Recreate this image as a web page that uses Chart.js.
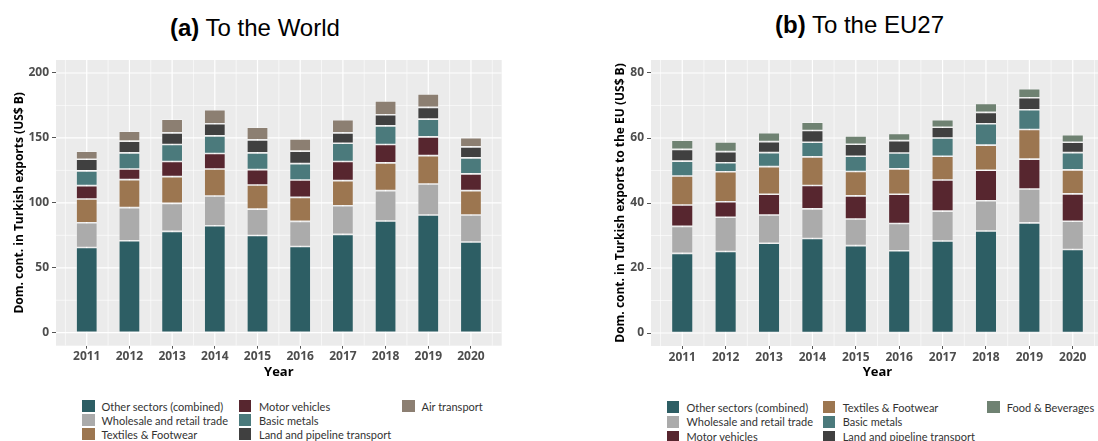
<!DOCTYPE html>
<html>
<head>
<meta charset="utf-8">
<script src="https://cdn.jsdelivr.net/npm/chart.js@4"></script>
<style>
  html, body { margin: 0; padding: 0; background: #fff; overflow: hidden; width: 1098px; height: 441px; }
  .wrap { position: absolute; }
  .title { position: absolute; font-family: "Liberation Sans", Arial, sans-serif; font-size: 24px; line-height: 24px; color: #000; white-space: nowrap; }
  .title b { font-weight: bold; }
  .legend { position: absolute; font-family: Lato, "Open Sans", sans-serif; font-size: 11px; color: #333; }
  .item { position: absolute; white-space: nowrap; height: 14px; line-height: 13px; }
  .sw { position: absolute; left: 0; top: 0; width: 12.5px; height: 12px; }
  .lbl { position: absolute; top: -0.5px; }
</style>
</head>
<body>
<div class="title" style="left:170px; top:16px;"><b>(a)</b> To the World</div>
<div class="title" style="left:775px; top:13px;"><b>(b)</b> To the EU27</div>

<canvas id="world" class="wrap" width="549" height="390" style="left:0; top:0;"></canvas>
<canvas id="eu" class="wrap" width="510" height="390" style="left:600px; top:0;"></canvas>

<div id="legendWorld" class="legend" style="left:0; top:0;"></div>
<div id="legendEu" class="legend" style="left:0; top:0;"></div>

<script>
// years on the x axis
const years = [2011, 2012, 2013, 2014, 2015, 2016, 2017, 2018, 2019, 2020];

// (a) To the World, US$ B
const worldOther     = [65.6, 70.8, 78.0, 82.4, 74.9, 66.4, 75.7, 86.0, 90.6, 69.8];
const worldWholesale = [19.1, 25.5, 21.6, 22.9, 20.3, 19.3, 22.1, 23.4, 23.9, 20.8];
const worldTextiles  = [18.3, 21.6, 20.6, 20.8, 18.6, 18.5, 19.3, 21.4, 21.9, 18.8];
const worldMotor     = [10.3, 8.2, 11.6, 11.9, 11.8, 13.4, 14.7, 14.1, 14.4, 12.9];
const worldMetals    = [11.3, 12.4, 13.1, 13.6, 12.9, 12.6, 14.1, 14.4, 13.7, 12.3];
const worldLand      = [9.0, 9.0, 9.0, 9.3, 10.0, 9.6, 8.0, 8.5, 9.0, 8.5];
const worldAir       = [6.2, 7.7, 10.6, 10.8, 9.8, 9.5, 10.1, 10.6, 10.3, 7.0];

// (b) To the EU27, US$ B
const euOther     = [24.5, 25.1, 27.6, 29.1, 26.9, 25.3, 28.3, 31.4, 33.9, 25.7];
const euWholesale = [8.3, 10.5, 8.7, 9.1, 8.2, 8.4, 9.2, 9.3, 10.4, 8.7];
const euMotor     = [6.6, 4.8, 6.4, 7.2, 7.1, 9.0, 9.6, 9.4, 9.2, 8.4];
const euTextiles  = [8.9, 9.2, 8.5, 8.8, 7.5, 7.8, 7.3, 7.7, 9.1, 7.4];
const euMetals    = [4.6, 2.8, 4.3, 4.5, 4.7, 4.9, 5.6, 6.6, 6.1, 5.3];
const euLand      = [3.6, 3.4, 3.4, 3.6, 3.7, 3.8, 3.3, 3.5, 3.7, 3.2];
const euFood      = [2.8, 3.0, 2.7, 2.6, 2.5, 2.2, 2.3, 2.7, 2.8, 2.3];

const worldTicks = [0, 50, 100, 150, 200];
const euTicks = [0, 20, 40, 60, 80];

const colors = {
  other: "#2d5e64",
  wholesale: "#ababab",
  textiles: "#9c7650",
  motor: "#57262f",
  metals: "#4b7a7c",
  land: "#404040",
  air: "#8c7f72",
  food: "#6f8272"
};

const worldSeries = [
  ["Other sectors (combined)", worldOther, colors.other],
  ["Wholesale and retail trade", worldWholesale, colors.wholesale],
  ["Textiles & Footwear", worldTextiles, colors.textiles],
  ["Motor vehicles", worldMotor, colors.motor],
  ["Basic metals", worldMetals, colors.metals],
  ["Land and pipeline transport", worldLand, colors.land],
  ["Air transport", worldAir, colors.air]
];
const euSeries = [
  ["Other sectors (combined)", euOther, colors.other],
  ["Wholesale and retail trade", euWholesale, colors.wholesale],
  ["Motor vehicles", euMotor, colors.motor],
  ["Textiles & Footwear", euTextiles, colors.textiles],
  ["Basic metals", euMetals, colors.metals],
  ["Land and pipeline transport", euLand, colors.land],
  ["Food & Beverages", euFood, colors.food]
];

// ggplot-like grey panel with major + minor white grid
const panelGrid = {
  id: "panelGrid",
  beforeDatasetsDraw(chart, args, opts) {
    const { ctx, chartArea: a, scales: { x, y } } = chart;
    ctx.save();
    ctx.fillStyle = "#ebebeb";
    ctx.fillRect(a.left, a.top, a.right - a.left, a.bottom - a.top);
    ctx.beginPath();
    ctx.rect(a.left, a.top, a.right - a.left, a.bottom - a.top);
    ctx.clip();
    ctx.strokeStyle = "#ffffff";
    const line = (x1, y1, x2, y2, w) => {
      ctx.lineWidth = w;
      ctx.beginPath();
      ctx.moveTo(x1, y1);
      ctx.lineTo(x2, y2);
      ctx.stroke();
    };
    opts.yMinor.forEach(v => { const p = y.getPixelForValue(v); line(a.left, p, a.right, p, 0.6); });
    opts.yMajor.forEach(v => { const p = y.getPixelForValue(v); line(a.left, p, a.right, p, 1.2); });
    years.forEach(v => {
      const pm = x.getPixelForValue(v - 0.5);
      line(pm, a.top, pm, a.bottom, 0.6);
    });
    const last = x.getPixelForValue(years[years.length - 1] + 0.5);
    line(last, a.top, last, a.bottom, 0.6);
    years.forEach(v => { const p = x.getPixelForValue(v); line(p, a.top, p, a.bottom, 1.2); });
    ctx.restore();
  }
};

const tickFont = { family: "'Open Sans', sans-serif", size: 12, weight: "bold" };
const titleFont = { family: "'Open Sans', sans-serif", size: 12, weight: "bold" };

function makeChart(id, series, yMin, yMax, yTicks, yMinor, yAxisTitle, yWidth, yTitlePad, padRight, xHeight) {
  const datasets = series.map(([label, vals, color]) => ({
    label: label,
    data: years.map((yr, i) => ({ x: yr, y: vals[i] })),
    backgroundColor: color,
    borderColor: "rgba(255,255,255,0.3)",
    borderWidth: 0.8,
    borderSkipped: false,
    barPercentage: 0.5,
    categoryPercentage: 1.0
  }));

  return new Chart(document.getElementById(id), {
    type: "bar",
    data: { datasets: datasets },
    plugins: [panelGrid],
    options: {
      responsive: false,
      animation: false,
      layout: { padding: { top: 60, right: padRight, left: 0, bottom: 0 } },
      plugins: {
        legend: { display: false },
        tooltip: { enabled: false },
        panelGrid: { yMajor: yTicks, yMinor: yMinor }
      },
      scales: {
        x: {
          type: "linear",
          offset: false,
          stacked: true,
          min: years[0] - 0.72,
          max: years[years.length - 1] + 0.72,
          afterBuildTicks: s => { s.ticks = years.map(v => ({ value: v })); },
          afterFit: s => { s.height = xHeight; },
          ticks: {
            callback: v => String(v),
            color: "#4d4d4d",
            font: tickFont,
            padding: 1,
            maxRotation: 0,
            autoSkip: false
          },
          grid: { offset: false, drawOnChartArea: false, drawTicks: true, tickLength: 3, tickColor: "#555", color: "transparent" },
          border: { display: false },
          title: { display: true, text: "Year", color: "#000", font: { family: "'Open Sans', sans-serif", size: 13, weight: "bold" }, padding: { top: 0, bottom: 10 } }
        },
        y: {
          stacked: true,
          min: yMin,
          max: yMax,
          afterBuildTicks: s => { s.ticks = yTicks.map(v => ({ value: v })); },
          afterFit: s => { s.width = yWidth; },
          ticks: { color: "#4d4d4d", font: tickFont, padding: 3 },
          grid: { drawOnChartArea: false, drawTicks: true, tickLength: 4, tickColor: "#555", color: "transparent" },
          border: { display: false },
          title: { display: true, text: yAxisTitle, color: "#000", font: titleFont, padding: { top: yTitlePad, bottom: 0 } }
        }
      }
    }
  });
}

makeChart("world", worldSeries, -10, 210, worldTicks, [25, 75, 125, 175],
  "Dom. cont. in Turkish exports (US$ B)", 56, 12, 47.3, 44.3);
makeChart("eu", euSeries, -4, 84, euTicks, [10, 30, 50, 70],
  "Dom. cont. in Turkish exports to the EU (US$ B)", 51, 13, 6, 44);

// legends, column-major, three rows
function buildLegend(elId, series, colX, textX, rowTop, pitch) {
  const el = document.getElementById(elId);
  series.forEach(([label, , color], i) => {
    const col = Math.floor(i / 3), row = i % 3;
    const item = document.createElement("div");
    item.className = "item";
    item.style.left = colX[col] + "px";
    item.style.top = (rowTop + row * pitch) + "px";
    item.innerHTML = '<span class="sw" style="background:' + color + '"></span>' +
      '<span class="lbl" style="left:' + (textX[col] - colX[col]) + 'px">' + label + '</span>';
    el.appendChild(item);
  });
}
buildLegend("legendWorld", worldSeries, [82, 238.5, 402], [101.5, 259, 421.5], 400, 14.2);
buildLegend("legendEu", euSeries, [666.5, 822.7, 987.3], [686.5, 842.7, 1006.7], 401, 14.8);
</script>
</body>
</html>
